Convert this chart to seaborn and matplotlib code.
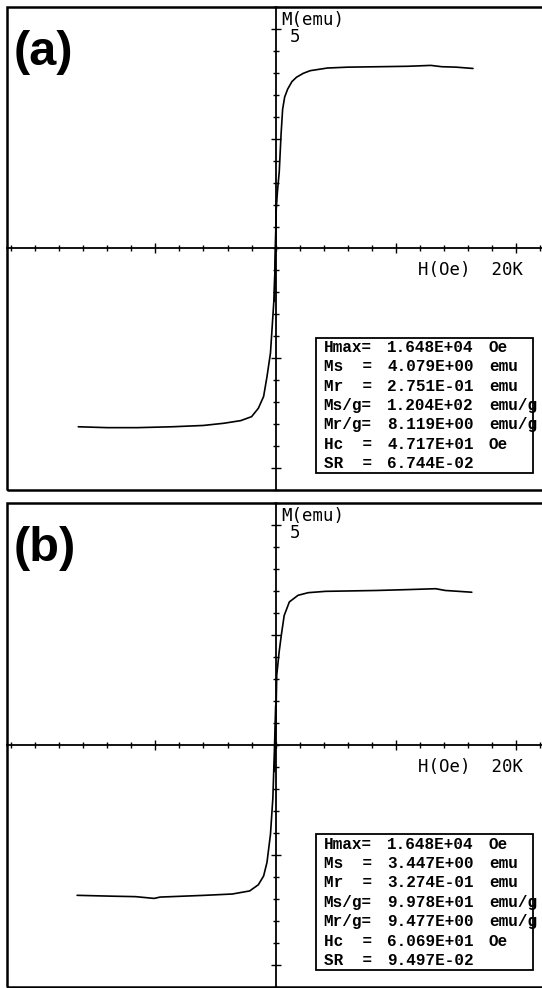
"""Hysteresis loops M(H) for two samples, (a) and (b)."""

import numpy as np
import seaborn as sns
from matplotlib import pyplot as plt
from matplotlib.patches import Rectangle

sns.set_style("white")
plt.rcParams["font.family"] = ["DejaVu Sans Mono", "DejaVu Sans"]
plt.rcParams["text.color"] = "k"

# ---------------------------------------------------------------------------
# data (H in kOe, M in emu)
h_a_up = [-0.10, -0.05, 0.00, 0.05, 0.15, 0.30, 0.45, 0.58, 0.75, 1.00, 1.35,
          1.73, 2.30, 2.88, 4.30, 6.00, 8.60, 11.0, 12.9, 13.8, 15.0, 16.4]
m_a_up = [-1.20, -0.30, 0.30, 0.90, 1.30, 1.75, 2.60, 3.17, 3.45, 3.63, 3.80,
          3.90, 3.99, 4.05, 4.11, 4.13, 4.14, 4.15, 4.17, 4.14, 4.13, 4.10]
h_a_dn = [-16.4, -14.0, -11.5, -8.6, -6.0, -4.3, -2.9, -2.0, -1.44, -1.0,
          -0.72, -0.43, -0.14, 0.00, 0.05]
m_a_dn = [-4.06, -4.08, -4.08, -4.06, -4.03, -3.98, -3.92, -3.83, -3.64, -3.37,
          -2.92, -2.38, -1.16, 0.00, 1.10]

h_b_up = [-0.10, 0.00, 0.05, 0.09, 0.29, 0.49, 0.71, 1.14, 1.86, 2.71, 4.14,
          8.40, 11.0, 13.3, 14.1, 16.3]
m_b_up = [-0.60, 0.30, 1.00, 1.59, 2.12, 2.54, 2.95, 3.26, 3.41, 3.47, 3.50,
          3.52, 3.54, 3.56, 3.52, 3.48]
h_b_dn = [-16.5, -13.5, -11.65, -10.1, -9.6, -5.9, -3.6, -2.16, -1.44, -1.0,
          -0.72, -0.43, -0.23, -0.09, 0.00]
m_b_dn = [-3.42, -3.44, -3.45, -3.49, -3.46, -3.42, -3.39, -3.32, -3.18, -2.98,
          -2.67, -2.03, -1.20, 0.00, 0.90]

box_labels = ["Hmax=", "Ms  =", "Mr  =", "Ms/g=", "Mr/g=", "Hc  =", "SR  ="]
box_units = ["Oe", "emu", "emu", "emu/g", "emu/g", "Oe", ""]
box_values_a = ["1.648E+04", "4.079E+00", "2.751E-01", "1.204E+02",
                "8.119E+00", "4.717E+01", "6.744E-02"]
box_values_b = ["1.648E+04", "3.447E+00", "3.274E-01", "9.978E+01",
                "9.477E+00", "6.069E+01", "9.497E-02"]

x_major = [-10, 10, 20]
x_minor = np.arange(-22, 23, 2)
y_major = [-5, -2.5, 2.5, 5]
y_minor = np.arange(-5.5, 5.6, 0.5)


def draw_panel(ax, tag, h_up, m_up, h_dn, m_dn, values):
    sns.lineplot(x=h_up, y=m_up, sort=False, estimator=None, color="k",
                 lw=1.2, ax=ax)
    sns.lineplot(x=h_dn, y=m_dn, sort=False, estimator=None, color="k",
                 lw=1.2, ax=ax)
    ax.set_xlim(-22.3, 22.3)
    ax.set_ylim(-5.5, 5.5)

    # axes through the origin, outer frame drawn separately
    for side in ["top", "right"]:
        ax.spines[side].set_visible(False)
    for side in ["left", "bottom"]:
        ax.spines[side].set_position(("data", 0))
        ax.spines[side].set_linewidth(1.3)
        ax.spines[side].set_color("k")
    ax.add_patch(Rectangle((0, 0), 1, 1, transform=ax.transAxes, fill=False,
                           ec="k", lw=1.8, clip_on=False, zorder=5))

    ax.set_xticks(x_major)
    ax.set_xticks(x_minor, minor=True)
    ax.set_yticks(y_major)
    ax.set_yticks(y_minor, minor=True)
    ax.tick_params(which="both", direction="inout", color="k", width=1.0,
                   labelbottom=False, labelleft=False, bottom=True, left=True)
    ax.tick_params(which="major", length=7)
    ax.tick_params(which="minor", length=4)
    ax.set_xlabel("")
    ax.set_ylabel("")

    ax.text(0.0125, 0.88, tag, transform=ax.transAxes, fontsize=35,
            fontweight="bold", family="Liberation Sans", va="baseline",
            color="k")

    ax.annotate("M(emu)", xy=(0, 5), xytext=(4, 0), textcoords="offset points",
                fontsize=12.5, va="bottom", ha="left")
    ax.annotate("5", xy=(0, 5), xytext=(10, 1), textcoords="offset points",
                fontsize=12.5, va="top", ha="left")
    ax.annotate("H(Oe)  20K", xy=(20, 0), xytext=(5, -9),
                textcoords="offset points", fontsize=12.5, va="top",
                ha="right")

    # parameter box
    ax.add_patch(Rectangle((0.5748, 0.035), 0.405, 0.28,
                           transform=ax.transAxes, fill=False, ec="k",
                           lw=1.3, zorder=4))
    for i, (lab, val, unit) in enumerate(zip(box_labels, values, box_units)):
        y = 1 - (340.4 + i * 19.4) / 483
        kw = dict(transform=ax.transAxes, fontsize=11.5, va="center",
                  family="Liberation Mono", fontweight="bold")
        ax.text(0.5895, y, lab, **kw)
        ax.text(0.7082, y, val, **kw)
        ax.text(0.8975, y, unit, **kw)


fig = plt.figure(figsize=(5.42, 9.88), dpi=100)
ax_a = fig.add_axes([0.01347, 0.50405, 0.9902, 0.48887])
ax_b = fig.add_axes([0.01347, 0.00132, 0.9902, 0.48907])

draw_panel(ax_a, "(a)", h_a_up, m_a_up, h_a_dn, m_a_dn, box_values_a)
draw_panel(ax_b, "(b)", h_b_up, m_b_up, h_b_dn, m_b_dn, box_values_b)

fig.savefig("out.png", dpi=100)
